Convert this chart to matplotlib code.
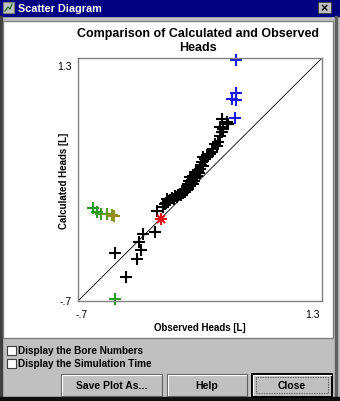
import matplotlib
matplotlib.use('Agg')
import matplotlib.pyplot as plt
from matplotlib.patches import Rectangle

plt.rcParams['font.family'] = ['Liberation Sans', 'DejaVu Sans']

# observed / calculated heads, black = regular bores
black_x = [-0.309, -0.397, -0.219, -0.186, -0.200, -0.165, -0.069, -0.055, -0.001,
           0.010, 0.025, 0.040, 0.030, 0.055, 0.070, 0.085, 0.095, 0.110, 0.120,
           0.135, 0.145, 0.150, 0.160, 0.170, 0.175, 0.185, 0.190, 0.195, 0.200,
           0.205, 0.210, 0.215, 0.222, 0.228, 0.235, 0.240, 0.245, 0.250, 0.258,
           0.262, 0.270, 0.275, 0.285, 0.290, 0.300, 0.305, 0.314, 0.327, 0.327,
           0.341, 0.355, 0.368, 0.382, 0.396, 0.409, 0.423, 0.437, 0.450, 0.464,
           0.478, 0.464, 0.486, 0.478, 0.519, 0.532]
black_y = [-0.500, -0.305, -0.354, -0.280, -0.217, -0.149, -0.135, 0.038, 0.071,
           0.095, 0.110, 0.125, 0.140, 0.128, 0.150, 0.140, 0.165, 0.160, 0.175,
           0.180, 0.170, 0.195, 0.190, 0.215, 0.200, 0.225, 0.250, 0.210, 0.265,
           0.235, 0.290, 0.250, 0.320, 0.275, 0.300, 0.260, 0.330, 0.290, 0.345,
           0.310, 0.360, 0.330, 0.375, 0.350, 0.390, 0.420, 0.442, 0.414, 0.483,
           0.470, 0.500, 0.496, 0.510, 0.524, 0.551, 0.592, 0.578, 0.606, 0.660,
           0.688, 0.730, 0.716, 0.798, 0.771, 0.757]

blue_x = [0.592, 0.592, 0.560, 0.595, 0.587]
blue_y = [1.280, 1.010, 0.962, 0.954, 0.809]

green_x = [-0.575, -0.547, -0.514, -0.465, -0.424, -0.405, -0.397]
green_y = [0.063, 0.035, 0.016, 0.016, 0.008, 0.002, -0.684]
green_c = ['#1f9a1f', '#2a9a22', '#3f9a22', '#5a9a20', '#7f9420', '#9a8f1c', '#2a9a2a']

red_x = [-0.020]
red_y = [-0.025]

lim = (-0.7, 1.3)

fig = plt.figure(figsize=(3.40, 4.02), dpi=100)
fig.patch.set_facecolor('#c0c0c0')

# window frame drawn in pixel units
bg = fig.add_axes([0, 0, 1, 1])
bg.set_xlim(0, 340)
bg.set_ylim(402, 0)
bg.axis('off')

bg.add_patch(Rectangle((0, 0), 340, 17, color='#000080'))
bg.add_patch(Rectangle((3, 3), 11, 11, facecolor='#c0c0c0', edgecolor='#808080', lw=0.6))
bg.plot([5, 8, 10, 12], [12, 8, 10, 5], color='#006000', lw=0.8)
bg.text(18, 9, 'Scatter Diagram', color='white', fontsize=7.8, fontweight='bold',
        va='center', ha='left')
bg.add_patch(Rectangle((318, 3), 13, 11, facecolor='#c0c0c0', edgecolor='#404040', lw=0.6))
bg.text(324.5, 8.8, '×', fontsize=9, fontweight='bold', ha='center', va='center')
bg.add_patch(Rectangle((0, 17), 2, 385, color='#404040'))
bg.add_patch(Rectangle((335, 17), 2, 385, color='#606060'))
bg.add_patch(Rectangle((0, 398), 340, 4, color='#101010'))

# white plot panel
bg.add_patch(Rectangle((3, 22), 330, 317, facecolor='white', edgecolor='#808080', lw=1))

bg.text(198, 34, 'Comparison of Calculated and Observed', fontsize=9, fontweight='bold',
        ha='center', va='center')
bg.text(198, 48, 'Heads', fontsize=9, fontweight='bold', ha='center', va='center')

# check boxes
for cy, label in [(351, 'Display the Bore Numbers'), (364, 'Display the Simulation Time')]:
    bg.add_patch(Rectangle((7, cy - 4.5), 9, 9, facecolor='white', edgecolor='#404040', lw=0.8))
    bg.text(18, cy, label, fontsize=7.2, fontweight='bold', ha='left', va='center')

# buttons
for x0, x1, label in [(61, 162, 'Save Plot As...'), (167, 247, 'Help'), (252, 332, 'Close')]:
    bg.add_patch(Rectangle((x0, 375), x1 - x0, 22, facecolor='#c0c0c0', edgecolor='#606060', lw=0.8))
    bg.plot([x0 + 1, x0 + 1, x1 - 1], [396, 376, 376], color='white', lw=0.8)
    bg.text((x0 + x1) / 2, 386, label, fontsize=7.5, fontweight='bold', ha='center', va='center')
bg.add_patch(Rectangle((252, 374.5), 80, 23, fill=False, edgecolor='black', lw=1.4))
bg.add_patch(Rectangle((256, 378), 72, 16, fill=False, edgecolor='#404040', lw=0.6, ls=(0, (1, 1))))

# scatter axes
ax = fig.add_axes([78 / 340, 100 / 402, 244 / 340, 243 / 402])
ax.set_xlim(lim)
ax.set_ylim(lim)
ax.set_xticks([])
ax.set_yticks([])
for s in ax.spines.values():
    s.set_color('#808080')
    s.set_linewidth(1)

ax.plot(lim, lim, color='black', lw=0.6)
mk = dict(marker='+', ls='none', markersize=8, mew=1.5)
ax.plot(black_x, black_y, color='black', **mk)
ax.plot(blue_x, blue_y, color='#1c1ce0', clip_on=False, **mk)
for x, y, c in zip(green_x, green_y, green_c):
    ax.plot([x], [y], color=c, clip_on=False, **mk)
ax.plot(red_x, red_y, color='#e01010', **mk)
ax.plot(red_x, red_y, color='#e01010', marker='x', ls='none', markersize=6, mew=1.5)

ax.text(-0.025, 0.967, '1.3', transform=ax.transAxes, fontsize=7.5, ha='right', va='center')
ax.text(-0.025, 0.0, '-.7', transform=ax.transAxes, fontsize=7.5, ha='right', va='center')
ax.text(0.015, -0.055, '-.7', transform=ax.transAxes, fontsize=7.5, ha='center', va='center')
ax.text(0.96, -0.055, '1.3', transform=ax.transAxes, fontsize=7.5, ha='center', va='center')
bg.text(200, 328, 'Observed Heads [L]', fontsize=7, fontweight='bold', ha='center', va='center')
bg.text(64, 181, 'Calculated Heads [L]', fontsize=7, fontweight='bold', ha='center',
        va='center', rotation=90)

fig.savefig('out.png', dpi=100)
